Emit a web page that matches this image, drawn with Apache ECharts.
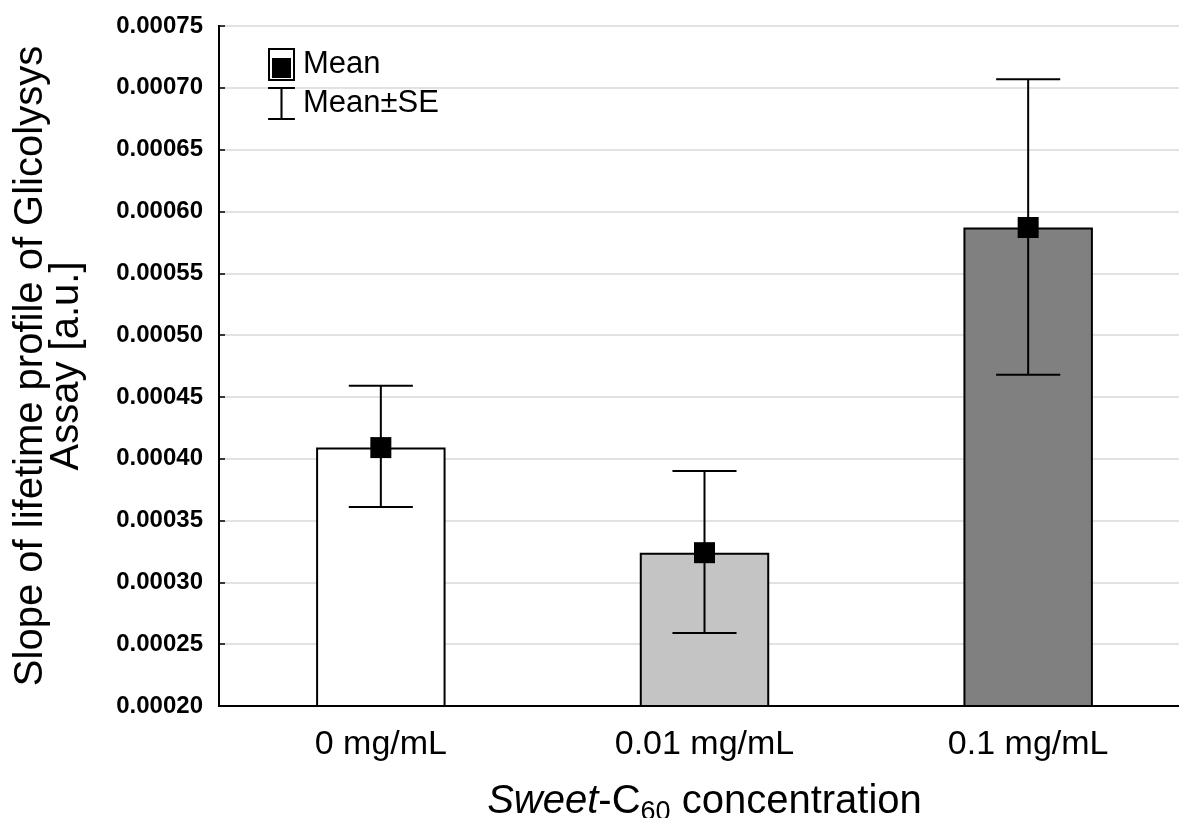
<!DOCTYPE html>
<html>
<head>
<meta charset="utf-8">
<script src="https://cdn.jsdelivr.net/npm/echarts@6/dist/echarts.min.js"></script>
<style>
html,body{margin:0;padding:0;background:#fff;}
#chart{width:1179px;height:818px;}
</style>
</head>
<body>
<div id="chart"></div>
<script>
// ---- data ----
var categories = ['0 mg/mL', '0.01 mg/mL', '0.1 mg/mL'];
var means = [0.000409, 0.000324, 0.000587];
var seLow = [0.000361, 0.000259, 0.000468];
var seHigh = [0.000459, 0.000390, 0.000707];
var barColors = ['#ffffff', '#c4c4c4', '#808080'];
var yMin = 0.0002, yMax = 0.00075, yStep = 0.00005;

var chart = echarts.init(document.getElementById('chart'));

var meanIcon = 'path://M0 0 L27 0 L27 33 L0 33 Z M2 2 L2 31 L25 31 L25 2 Z M4 10 L23 10 L23 30 L4 30 Z';
var seIcon = 'path://M0 0 L26 0 L26 2 L14 2 L14 30 L26 30 L26 32 L0 32 L0 30 L12 30 L12 2 L0 2 Z';

var errData = categories.map(function (c, i) { return [i, seLow[i], seHigh[i]]; });
var FONT = 'Liberation Sans, Arial, sans-serif';

var option = {
  backgroundColor: '#fff',
  animation: false,
  grid: {
    left: 219, top: 26, width: 971, bottom: 112,
    outerBoundsMode: 'none',
    containLabel: false,
    show: true, borderColor: '#000', borderWidth: 2, backgroundColor: 'transparent'
  },
  legend: {
    orient: 'vertical',
    left: 263, top: 43,
    itemWidth: 27, itemHeight: 33, itemGap: 6,
    textStyle: { fontFamily: FONT, fontSize: 31, color: '#000', padding: [0, 0, 0, 3] },
    data: [
      { name: 'Mean', icon: meanIcon },
      { name: 'Mean±SE', icon: seIcon }
    ]
  },
  xAxis: {
    type: 'category',
    data: categories,
    boundaryGap: true,
    axisLine: { lineStyle: { color: '#000', width: 2 } },
    axisTick: { inside: true, alignWithLabel: true, length: 4, lineStyle: { color: '#000', width: 2 } },
    axisLabel: { fontFamily: FONT, fontSize: 34, color: '#000', margin: 22 },
    splitLine: { show: false },
    name: '{i|Sweet}{n|-C}{sub|60}{n| concentration}',
    nameLocation: 'middle',
    nameGap: 76,
    nameTextStyle: {
      fontFamily: FONT, fontSize: 40, color: '#000',
      rich: {
        i: { fontStyle: 'italic', fontSize: 40, lineHeight: 44, verticalAlign: 'top', color: '#000', fontFamily: FONT },
        n: { fontSize: 40, lineHeight: 44, verticalAlign: 'top', color: '#000', fontFamily: FONT },
        sub: { fontSize: 27, lineHeight: 27, color: '#000', fontFamily: FONT, verticalAlign: 'bottom', padding: [22, 0, 0, 0] }
      }
    }
  },
  yAxis: {
    type: 'value',
    min: yMin, max: yMax, interval: yStep,
    axisLine: { show: true, lineStyle: { color: '#000', width: 2 } },
    axisTick: { show: true, inside: true, length: 6, lineStyle: { color: '#000', width: 1.5 } },
    axisLabel: {
      fontFamily: FONT, fontWeight: 'bold', fontSize: 24, color: '#000', margin: 16,
      formatter: function (v) { return v.toFixed(5); }
    },
    splitLine: { show: true, lineStyle: { color: '#e2e2e2', width: 2 } },
    name: 'Slope of lifetime profile of Glicolysys\nAssay [a.u.]',
    nameLocation: 'middle',
    nameGap: 134,
    nameTextStyle: { fontFamily: FONT, fontSize: 40, color: '#000', lineHeight: 36, align: 'center' }
  },
  series: [
    {
      type: 'bar',
      name: 'bars',
      barWidth: '40%',
      data: means.map(function (v, i) {
        return { value: v, itemStyle: { color: barColors[i], borderColor: '#000', borderWidth: 2 } };
      }),
      z: 2
    },
    {
      type: 'custom',
      name: 'Mean±SE',
      itemStyle: { color: '#000' },
      data: errData,
      z: 3,
      renderItem: function (params, api) {
        var x = api.value(0);
        var lo = api.coord([x, api.value(1)]);
        var hi = api.coord([x, api.value(2)]);
        var half = api.size([1, 0])[0] * 0.099;
        var st = { stroke: '#000', lineWidth: 2, fill: null };
        return {
          type: 'group',
          children: [
            { type: 'line', shape: { x1: lo[0], y1: lo[1], x2: hi[0], y2: hi[1] }, style: st },
            { type: 'line', shape: { x1: hi[0] - half, y1: hi[1], x2: hi[0] + half, y2: hi[1] }, style: st },
            { type: 'line', shape: { x1: lo[0] - half, y1: lo[1], x2: lo[0] + half, y2: lo[1] }, style: st }
          ]
        };
      }
    },
    {
      type: 'scatter',
      name: 'Mean',
      symbol: 'rect',
      symbolSize: 21,
      itemStyle: { color: '#000', opacity: 1 },
      data: means,
      z: 4
    }
  ]
};
chart.setOption(option);
</script>
</body>
</html>
